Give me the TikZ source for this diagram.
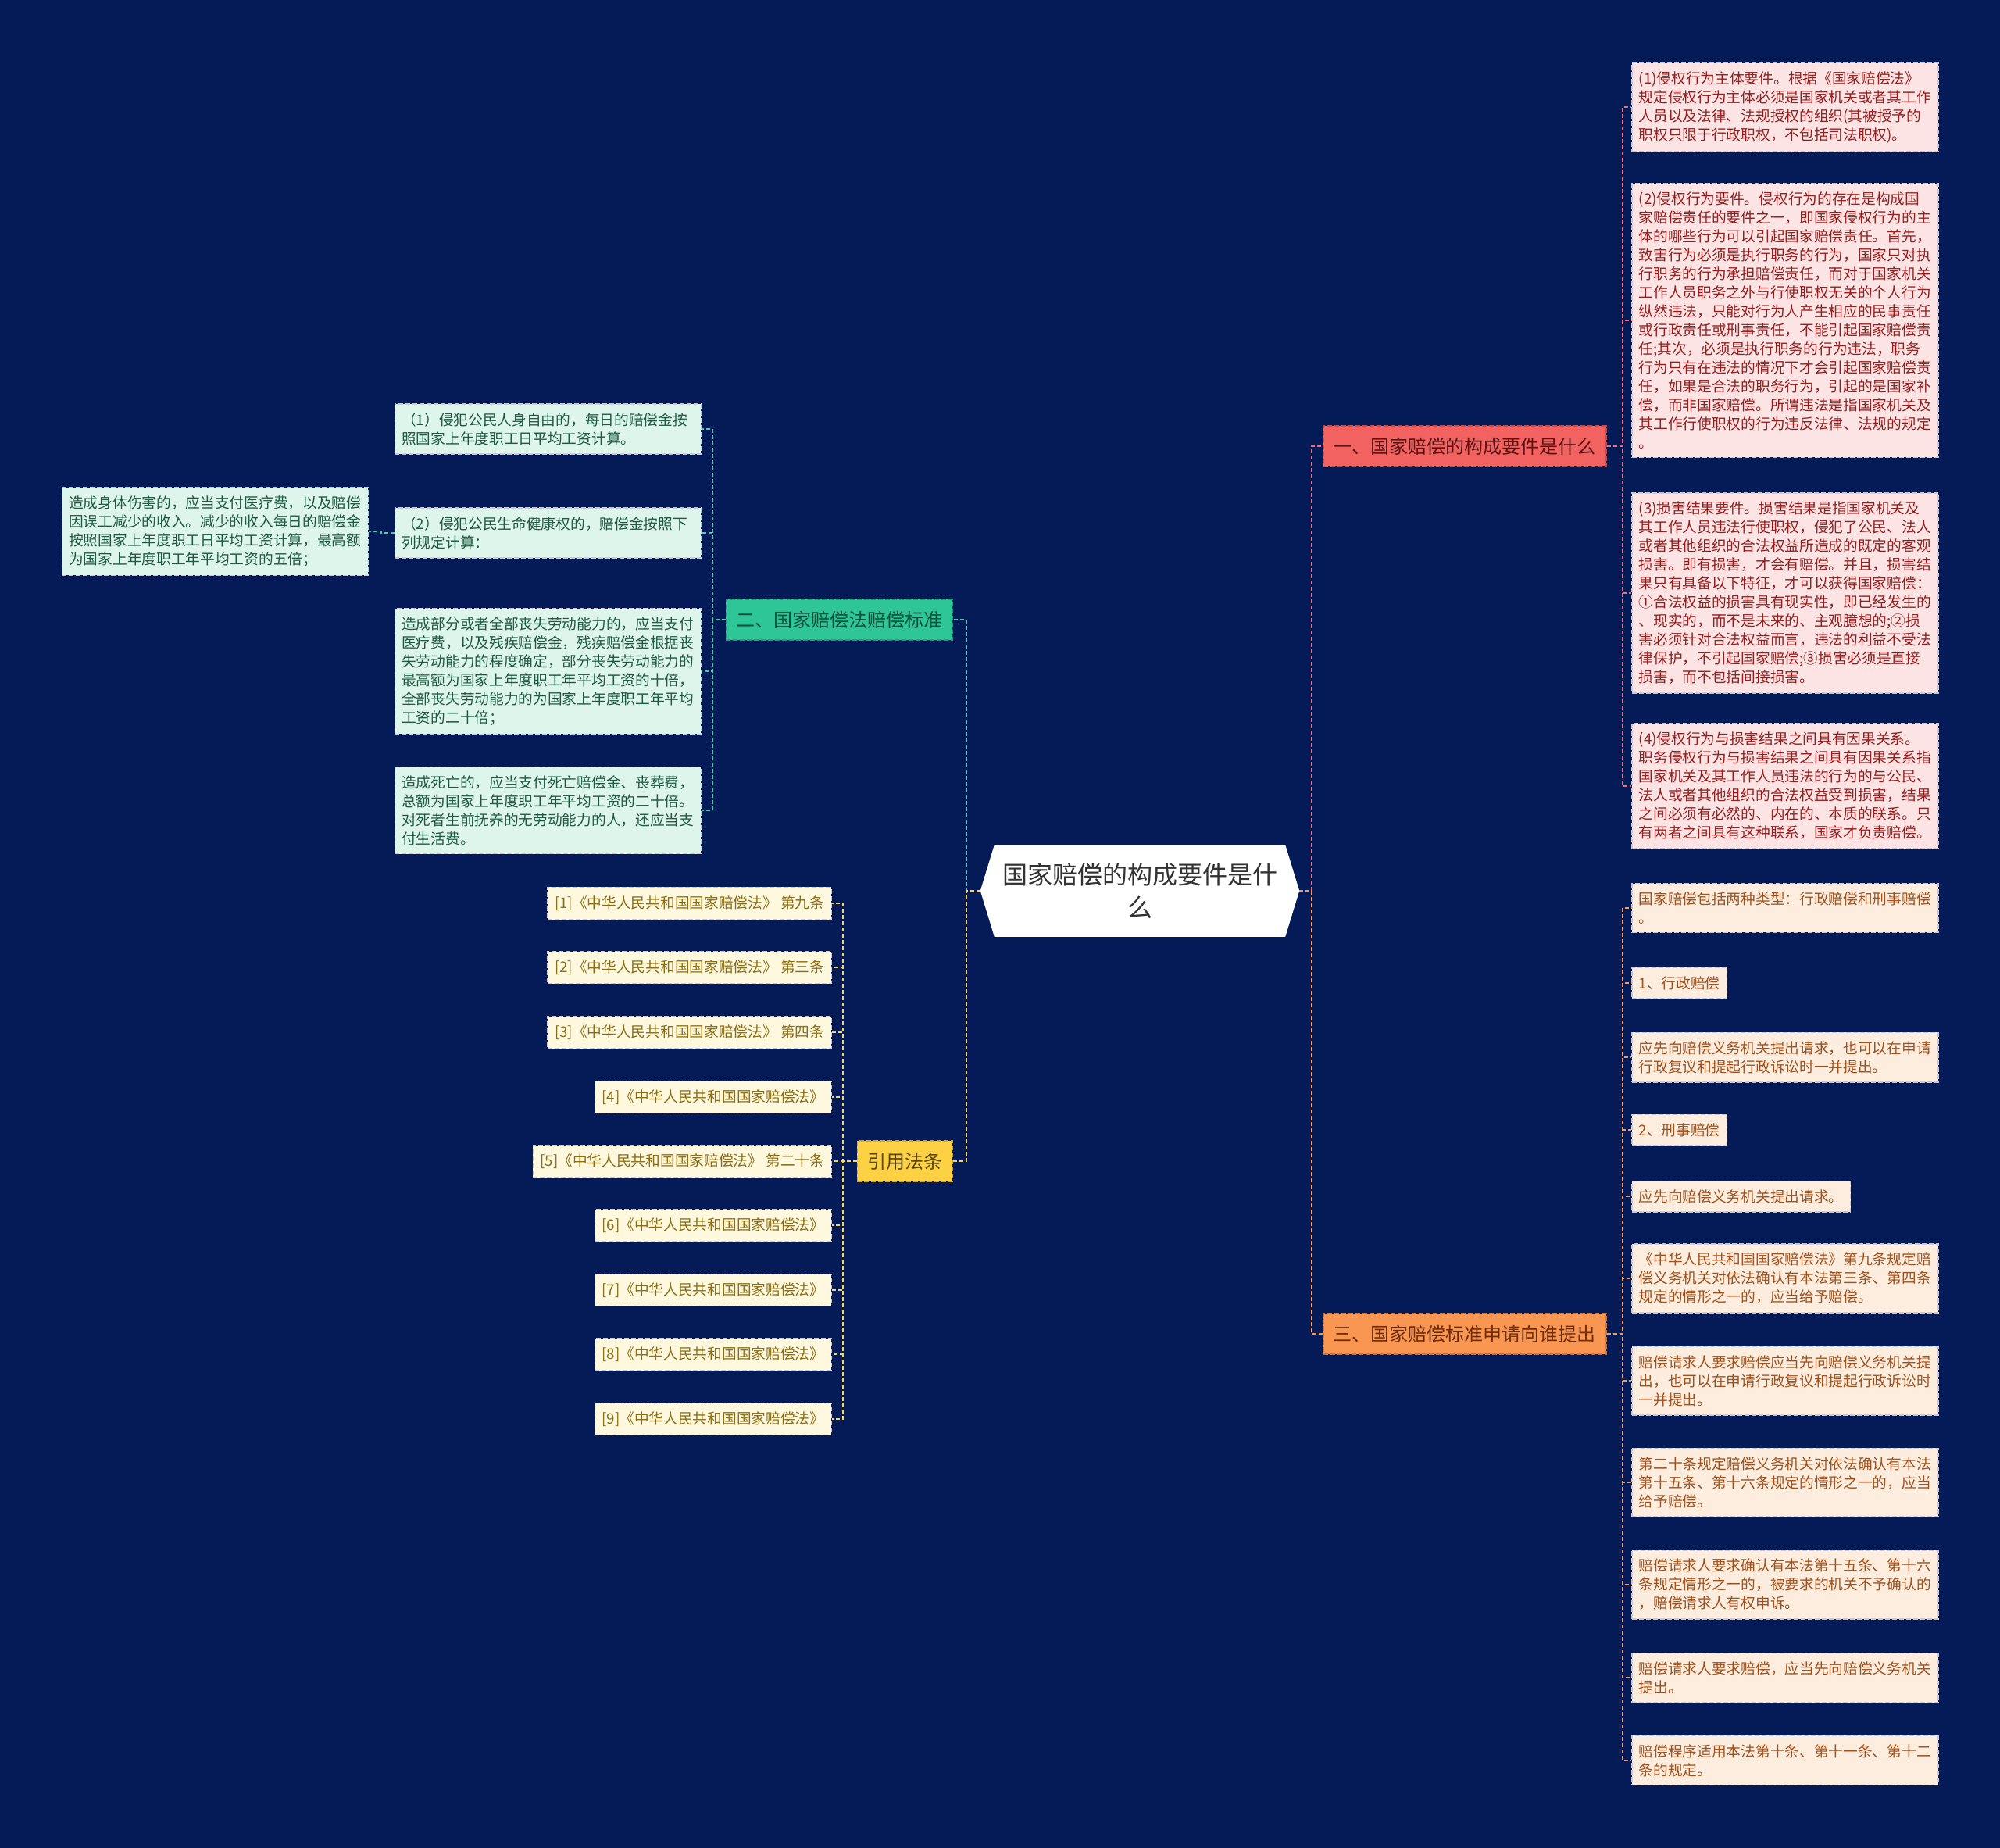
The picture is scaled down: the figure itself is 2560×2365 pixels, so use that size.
\documentclass[tikz,border=0pt]{standalone}
\usepackage{fontspec}
\setmainfont{Noto Sans CJK SC}
\usetikzlibrary{backgrounds}
\definecolor{bgnavy}{RGB}{4,27,87}
\definecolor{redfill}{RGB}{242,98,96}
\definecolor{redtext}{RGB}{90,20,20}
\definecolor{redleaffill}{RGB}{253,228,228}
\definecolor{redleaftext}{RGB}{150,30,30}
\definecolor{redlink}{RGB}{236,110,118}
\definecolor{orangefill}{RGB}{248,150,82}
\definecolor{orangetext}{RGB}{110,45,10}
\definecolor{orangeleaffill}{RGB}{253,237,222}
\definecolor{orangeleaftext}{RGB}{160,82,30}
\definecolor{orangelink}{RGB}{240,155,100}
\definecolor{greenfill}{RGB}{46,198,150}
\definecolor{greentext}{RGB}{15,80,60}
\definecolor{greenleaffill}{RGB}{222,245,235}
\definecolor{greenleaftext}{RGB}{30,90,65}
\definecolor{greenlink}{RGB}{80,200,185}
\definecolor{yellowfill}{RGB}{252,210,68}
\definecolor{yellowtext}{RGB}{90,70,10}
\definecolor{yellowleaffill}{RGB}{253,248,222}
\definecolor{yellowleaftext}{RGB}{140,110,20}
\definecolor{yellowlink}{RGB}{245,212,95}
\definecolor{leafedge}{RGB}{205,200,215}

\begin{document}
\begin{tikzpicture}[x=1pt,y=-1pt,
  rootbox/.style={align=center,inner xsep=28pt,inner ysep=23pt,text=black!80,
    font=\fontsize{32}{42}\selectfont},
  branch/.style={rectangle,draw,line width=1.5pt,dash pattern=on 6pt off 3pt,
    inner xsep=13pt,inner ysep=15pt,font=\fontsize{24}{28}\selectfont},
  branchred/.style={branch,fill=redfill,draw=redfill!80!black,text=redtext},
  branchorange/.style={branch,fill=orangefill,draw=orangefill!80!black,text=orangetext},
  branchgreen/.style={branch,fill=greenfill,draw=greenfill!80!black,text=greentext},
  branchyellow/.style={branch,fill=yellowfill,draw=yellowfill!80!black,text=yellowtext},
  leaf/.style={rectangle,draw=leafedge,line width=1.5pt,dash pattern=on 6pt off 3pt,
    inner xsep=9pt,inner ysep=11pt,align=left,font=\fontsize{18.7}{24}\selectfont},
  wide/.style={text width=374pt},
  redleaf/.style={leaf,wide,fill=redleaffill,text=redleaftext},
  orangeleaf/.style={leaf,fill=orangeleaffill,text=orangeleaftext},
  greenleaf/.style={leaf,wide,fill=greenleaffill,text=greenleaftext},
  yellowleaf/.style={leaf,fill=yellowleaffill,text=yellowleaftext},
  link/.style={line width=2pt,dash pattern=on 5pt off 3pt},
  linkred/.style={link,draw=redlink},
  linkorange/.style={link,draw=orangelink},
  linkgreen/.style={link,draw=greenlink},
  linkyellow/.style={link,draw=yellowlink}]
\begin{scope}[on background layer]
  \fill[bgnavy] (0,0) rectangle (2560,2365);
\end{scope}

% root
\node[rootbox] (root) at (1459,1140) {国家赔偿的构成要件是什\\么};
\begin{scope}[on background layer]
  \fill[white] ([xshift=18pt]root.north west) -- ([xshift=-18pt]root.north east) -- (root.east)
    -- ([xshift=-18pt]root.south east) -- ([xshift=18pt]root.south west) -- (root.west) -- cycle;
\end{scope}

% branches
\node[branchred,anchor=west] (part1) at (1693,571) {一、国家赔偿的构成要件是什么};
\node[branchorange,anchor=west] (part3) at (1693,1707) {三、国家赔偿标准申请向谁提出};
\node[branchgreen,anchor=east] (part2) at (1220,793) {二、国家赔偿法赔偿标准};
\node[branchyellow,anchor=east] (laws) at (1220,1486) {引用法条};

% part 1
\node[redleaf,anchor=west] (req1) at (2088,137) {(1)侵权行为主体要件。根据《国家赔偿法》\\规定侵权行为主体必须是国家机关或者其工作\\人员以及法律、法规授权的组织(其被授予的\\职权只限于行政职权，不包括司法职权)。};
\node[redleaf,anchor=west] (req2) at (2088,410) {(2)侵权行为要件。侵权行为的存在是构成国\\家赔偿责任的要件之一，即国家侵权行为的主\\体的哪些行为可以引起国家赔偿责任。首先，\\致害行为必须是执行职务的行为，国家只对执\\行职务的行为承担赔偿责任，而对于国家机关\\工作人员职务之外与行使职权无关的个人行为\\纵然违法，只能对行为人产生相应的民事责任\\或行政责任或刑事责任，不能引起国家赔偿责\\任;其次，必须是执行职务的行为违法，职务\\行为只有在违法的情况下才会引起国家赔偿责\\任，如果是合法的职务行为，引起的是国家补\\偿，而非国家赔偿。所谓违法是指国家机关及\\其工作行使职权的行为违反法律、法规的规定\\。};
\node[redleaf,anchor=west] (req3) at (2088,759) {(3)损害结果要件。损害结果是指国家机关及\\其工作人员违法行使职权，侵犯了公民、法人\\或者其他组织的合法权益所造成的既定的客观\\损害。即有损害，才会有赔偿。并且，损害结\\果只有具备以下特征，才可以获得国家赔偿：\\①合法权益的损害具有现实性，即已经发生的\\、现实的，而不是未来的、主观臆想的;②损\\害必须针对合法权益而言，违法的利益不受法\\律保护，不引起国家赔偿;③损害必须是直接\\损害，而不包括间接损害。};
\node[redleaf,anchor=west] (req4) at (2088,1006) {(4)侵权行为与损害结果之间具有因果关系。\\职务侵权行为与损害结果之间具有因果关系指\\国家机关及其工作人员违法的行为的与公民、\\法人或者其他组织的合法权益受到损害，结果\\之间必须有必然的、内在的、本质的联系。只\\有两者之间具有这种联系，国家才负责赔偿。};

% part 3
\node[orangeleaf,wide,anchor=west] (ask1) at (2088,1162) {国家赔偿包括两种类型：行政赔偿和刑事赔偿\\。};
\node[orangeleaf,anchor=west] (ask2) at (2088,1258) {1、行政赔偿};
\node[orangeleaf,wide,anchor=west] (ask3) at (2088,1353) {应先向赔偿义务机关提出请求，也可以在申请\\行政复议和提起行政诉讼时一并提出。};
\node[orangeleaf,anchor=west] (ask4) at (2088,1446) {2、刑事赔偿};
\node[orangeleaf,anchor=west] (ask5) at (2088,1531) {应先向赔偿义务机关提出请求。};
\node[orangeleaf,wide,anchor=west] (ask6) at (2088,1636) {《中华人民共和国国家赔偿法》第九条规定赔\\偿义务机关对依法确认有本法第三条、第四条\\规定的情形之一的，应当给予赔偿。};
\node[orangeleaf,wide,anchor=west] (ask7) at (2088,1767) {赔偿请求人要求赔偿应当先向赔偿义务机关提\\出，也可以在申请行政复议和提起行政诉讼时\\一并提出。};
\node[orangeleaf,wide,anchor=west] (ask8) at (2088,1897) {第二十条规定赔偿义务机关对依法确认有本法\\第十五条、第十六条规定的情形之一的，应当\\给予赔偿。};
\node[orangeleaf,wide,anchor=west] (ask9) at (2088,2028) {赔偿请求人要求确认有本法第十五条、第十六\\条规定情形之一的，被要求的机关不予确认的\\，赔偿请求人有权申诉。};
\node[orangeleaf,wide,anchor=west] (ask10) at (2088,2147) {赔偿请求人要求赔偿，应当先向赔偿义务机关\\提出。};
\node[orangeleaf,wide,anchor=west] (ask11) at (2088,2253) {赔偿程序适用本法第十条、第十一条、第十二\\条的规定。};

% part 2
\node[greenleaf,anchor=east] (std1) at (898,549) {（1）侵犯公民人身自由的，每日的赔偿金按\\照国家上年度职工日平均工资计算。};
\node[greenleaf,anchor=east] (std2) at (898,682) {（2）侵犯公民生命健康权的，赔偿金按照下\\列规定计算：};
\node[greenleaf,anchor=east] (std3) at (898,859) {造成部分或者全部丧失劳动能力的，应当支付\\医疗费，以及残疾赔偿金，残疾赔偿金根据丧\\失劳动能力的程度确定，部分丧失劳动能力的\\最高额为国家上年度职工年平均工资的十倍，\\全部丧失劳动能力的为国家上年度职工年平均\\工资的二十倍；};
\node[greenleaf,anchor=east] (std4) at (898,1037) {造成死亡的，应当支付死亡赔偿金、丧葬费，\\总额为国家上年度职工年平均工资的二十倍。\\对死者生前抚养的无劳动能力的人，还应当支\\付生活费。};
\node[greenleaf,anchor=east] (hurt) at (472,680) {造成身体伤害的，应当支付医疗费，以及赔偿\\因误工减少的收入。减少的收入每日的赔偿金\\按照国家上年度职工日平均工资计算，最高额\\为国家上年度职工年平均工资的五倍；};

% cited laws
\node[yellowleaf,anchor=east] (law1) at (1065,1156) {[1]《中华人民共和国国家赔偿法》 第九条};
\node[yellowleaf,anchor=east] (law2) at (1065,1238) {[2]《中华人民共和国国家赔偿法》 第三条};
\node[yellowleaf,anchor=east] (law3) at (1065,1321) {[3]《中华人民共和国国家赔偿法》 第四条};
\node[yellowleaf,anchor=east] (law4) at (1065,1404) {[4]《中华人民共和国国家赔偿法》};
\node[yellowleaf,anchor=east] (law5) at (1065,1486) {[5]《中华人民共和国国家赔偿法》 第二十条};
\node[yellowleaf,anchor=east] (law6) at (1065,1568) {[6]《中华人民共和国国家赔偿法》};
\node[yellowleaf,anchor=east] (law7) at (1065,1651) {[7]《中华人民共和国国家赔偿法》};
\node[yellowleaf,anchor=east] (law8) at (1065,1733) {[8]《中华人民共和国国家赔偿法》};
\node[yellowleaf,anchor=east] (law9) at (1065,1816) {[9]《中华人民共和国国家赔偿法》};

% links
\draw[linkred] (root.east) -- ++(16,0) |- (part1.west);
\draw[linkorange] (root.east) -- ++(16,0) |- (part3.west);
\draw[linkgreen] (root.west) -- ++(-18,0) |- (part2.east);
\draw[linkyellow] (root.west) -- ++(-18,0) |- (laws.east);
\foreach \n in {req1,req2,req3,req4}
  \draw[linkred] (part1.east) -- ++(20,0) |- (\n.west);
\foreach \n in {ask1,ask2,ask3,ask4,ask5,ask6,ask7,ask8,ask9,ask10,ask11}
  \draw[linkorange] (part3.east) -- ++(20,0) |- (\n.west);
\foreach \n in {std1,std2,std3,std4}
  \draw[linkgreen] (part2.west) -- ++(-17,0) |- (\n.east);
\draw[linkgreen] (std2.west) -- ++(-17,0) |- (hurt.east);
\foreach \n in {law1,law2,law3,law4,law5,law6,law7,law8,law9}
  \draw[linkyellow] (laws.west) -- ++(-18,0) |- (\n.east);
\end{tikzpicture}
\end{document}
